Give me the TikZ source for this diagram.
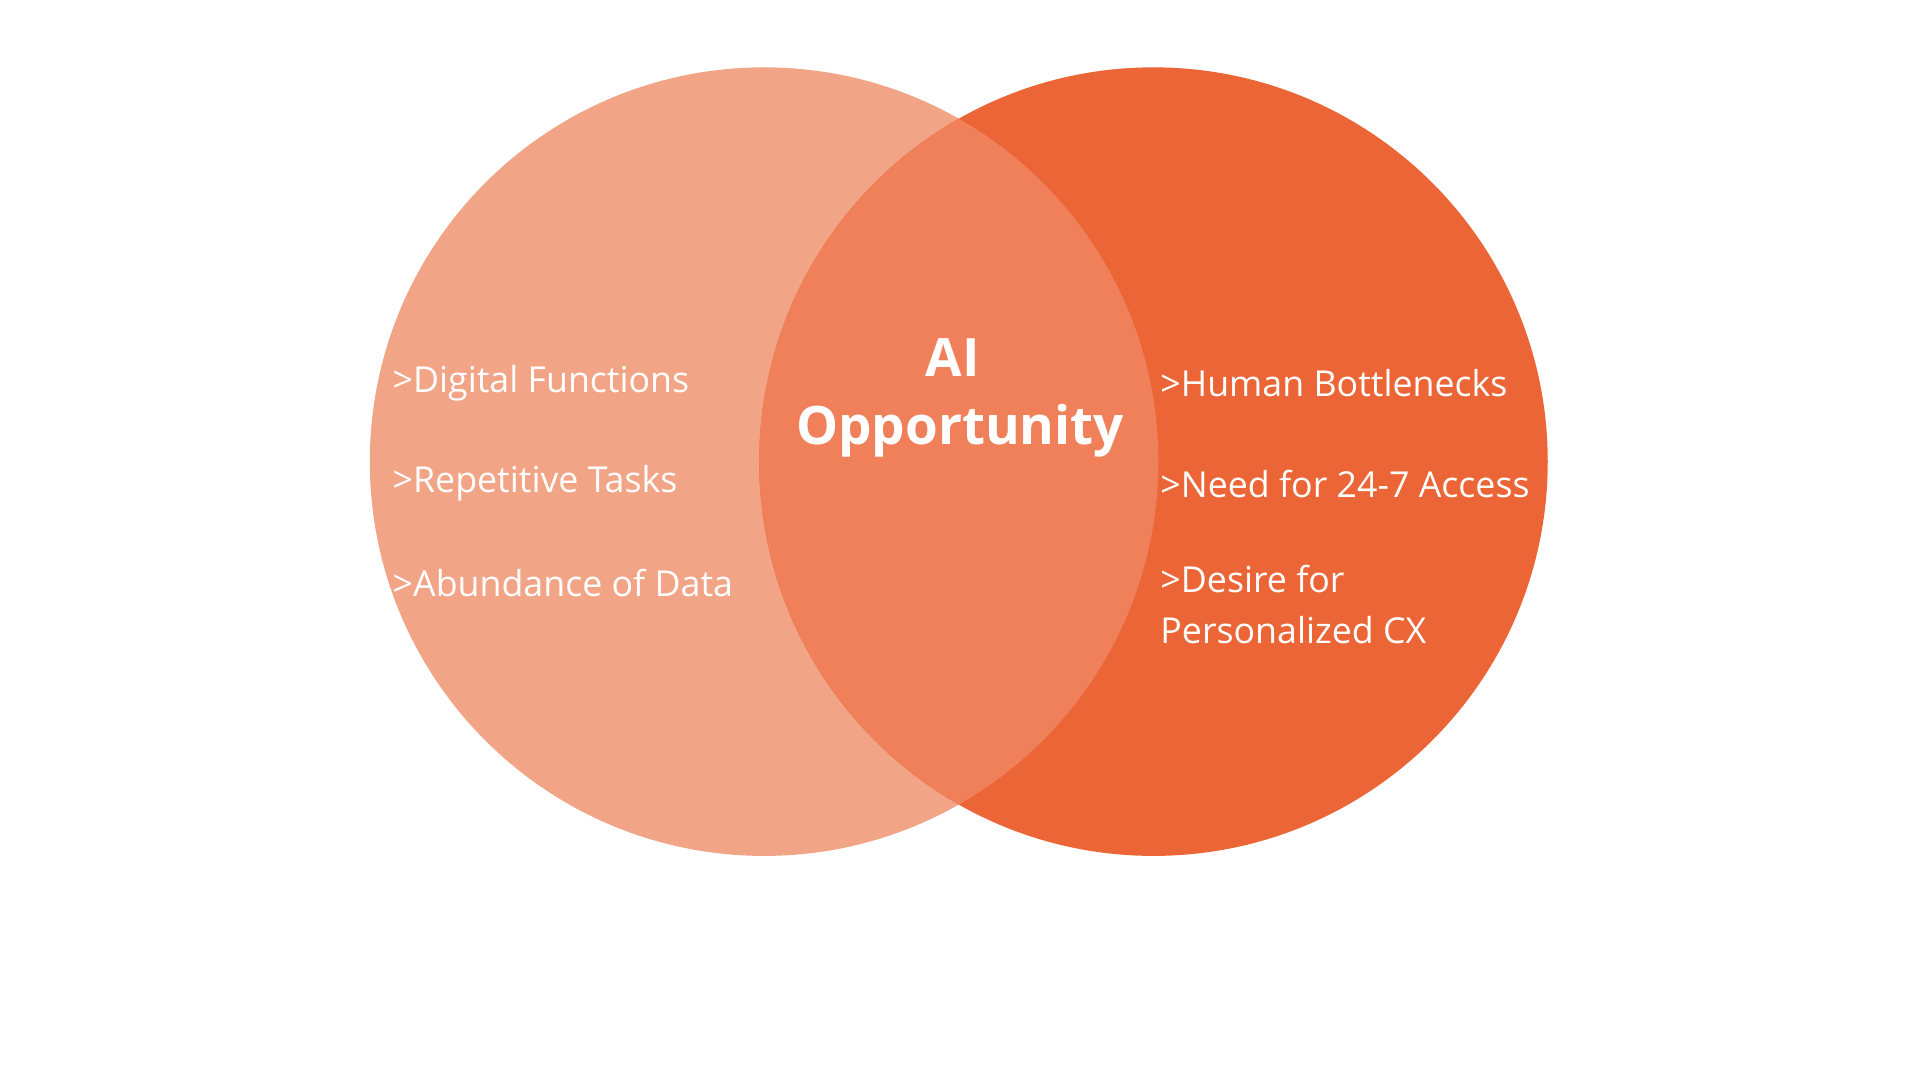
\documentclass[tikz,border=0pt]{standalone}
\usepackage{fontspec}
\setmainfont{Open Sans}
\definecolor{lc}{HTML}{F2A486}
\definecolor{rc}{HTML}{EB6536}
\definecolor{mc}{HTML}{EF8059}
\begin{document}
\begin{tikzpicture}[x=0.01cm,y=-0.01cm,
  item/.style={anchor=west,inner sep=0pt,text=white,font=\fontsize{8.3pt}{11.8pt}\selectfont,align=left},
  big/.style={inner sep=0pt,text=white,font=\fontsize{12.3pt}{15pt}\selectfont\bfseries}]
\useasboundingbox[fill=white] (0,0) rectangle (1568,882);
\fill[lc] (624,377) circle (322);
\fill[rc] (942,377) circle (322);
\begin{scope}
\clip (624,377) circle (322);
\fill[mc] (942,377) circle (322);
\end{scope}
\node[big] (ai) at (778,292) {AI};
\node[big] (op) at (784,352) {Opportunity};
\node[item] (l1) at (320,313) {>Digital Functions};
\node[item] (l2) at (320,395) {>Repetitive Tasks};
\node[item] (l3) at (320,476) {>Abundance of Data};
\node[item] (r1) at (947,313) {>Human Bottlenecks};
\node[item] (r2) at (947,395) {>Need for 24-7 Access};
\node[item,anchor=north west] (r3) at (947,461) {>Desire for\\Personalized CX};
\end{tikzpicture}
\end{document}
